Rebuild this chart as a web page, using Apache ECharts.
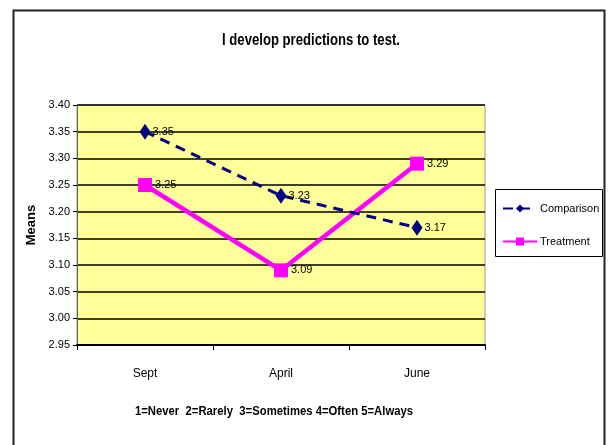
<!DOCTYPE html>
<html><head><meta charset="utf-8">
<script src="https://cdn.jsdelivr.net/npm/echarts@6/dist/echarts.min.js"></script>
<style>html,body{margin:0;padding:0;background:#fff}#c{width:610px;height:445px}</style>
</head><body><div id="c"></div>
<script>
var categories = ['Sept', 'April', 'June'];
var comparison = [3.35, 3.23, 3.17];
var treatment = [3.25, 3.09, 3.29];
var yMin = 2.95, yMax = 3.40, yStep = 0.05;
var titleText = 'I develop predictions to test.';
var noteText = '1=Never  2=Rarely  3=Sometimes 4=Often 5=Always';
var FONT = '"Liberation Sans", Arial, sans-serif';

var chart = echarts.init(document.getElementById('c'), null, {renderer: 'canvas'});
chart.setOption({
  animation: false,
  backgroundColor: '#fff',
  graphic: [
    {type: 'rect', shape: {x: 13.5, y: 10.5, width: 591, height: 440}, style: {fill: null, stroke: '#222', lineWidth: 2}, z: 100},
    {type: 'rect', shape: {x: 77, y: 105, width: 408, height: 240}, style: {fill: '#FFFF99', stroke: '#999', lineWidth: 1}, z: -1},
    {type: 'rect', shape: {x: 495.5, y: 189.5, width: 107, height: 67}, style: {fill: '#fff', stroke: '#000', lineWidth: 1}, z: 1},
    {type: 'text', x: 311, y: 41, scaleX: 0.82, style: {text: titleText, font: 'bold 16px ' + FONT, fill: '#000', align: 'center', verticalAlign: 'middle'}, z: 10},
    {type: 'text', x: 274, y: 411, scaleX: 0.87, style: {text: noteText, font: 'bold 13px ' + FONT, fill: '#000', align: 'center', verticalAlign: 'middle'}, z: 10}
  ],
  legend: {
    orient: 'vertical', left: 497, top: 198, itemGap: 22, itemWidth: 34, itemHeight: 10,
    textStyle: {fontFamily: FONT, fontSize: 11, color: '#000', padding: [0, 0, 0, -2]},
    data: ['Comparison', 'Treatment']
  },
  grid: {left: 77, top: 105, width: 408, height: 240, containLabel: false},
  xAxis: {
    type: 'category', data: categories, boundaryGap: true,
    axisLine: {lineStyle: {color: '#000', width: 2}},
    axisTick: {show: true, interval: 0, length: 5, lineStyle: {color: '#000'}},
    axisLabel: {fontFamily: FONT, fontSize: 12, color: '#000', margin: 23}
  },
  yAxis: {
    type: 'value', min: yMin, max: yMax, interval: yStep,
    name: 'Means', nameLocation: 'middle', nameGap: 35, nameRotate: 90,
    nameTextStyle: {fontFamily: FONT, fontSize: 13, fontWeight: 'bold', color: '#000'},
    axisLine: {show: true, lineStyle: {color: '#666', width: 1}},
    axisTick: {show: true, length: 4, lineStyle: {color: '#000'}},
    axisLabel: {fontFamily: FONT, fontSize: 11, color: '#000', margin: 7, formatter: function(v){return v.toFixed(2);}},
    splitLine: {lineStyle: {color: '#000', width: 1.5}}
  },
  series: [
    {
      name: 'Comparison', type: 'line', data: comparison,
      symbol: 'diamond', symbolSize: [11, 16],
      lineStyle: {color: '#000080', width: 3, type: [10, 7]},
      itemStyle: {color: '#000080'},
      label: {show: true, position: 'right', distance: 2, fontFamily: FONT, fontSize: 11, color: '#000', formatter: function(p){return p.value.toFixed(2);}},
      z: 3
    },
    {
      name: 'Treatment', type: 'line', data: treatment,
      symbol: 'rect', symbolSize: 14,
      lineStyle: {color: '#FF00FF', width: 4.5},
      itemStyle: {color: '#FF00FF'},
      label: {show: true, position: 'right', distance: 3, fontFamily: FONT, fontSize: 11, color: '#000', formatter: function(p){return p.value.toFixed(2);}},
      z: 2
    }
  ]
});
</script></body></html>
